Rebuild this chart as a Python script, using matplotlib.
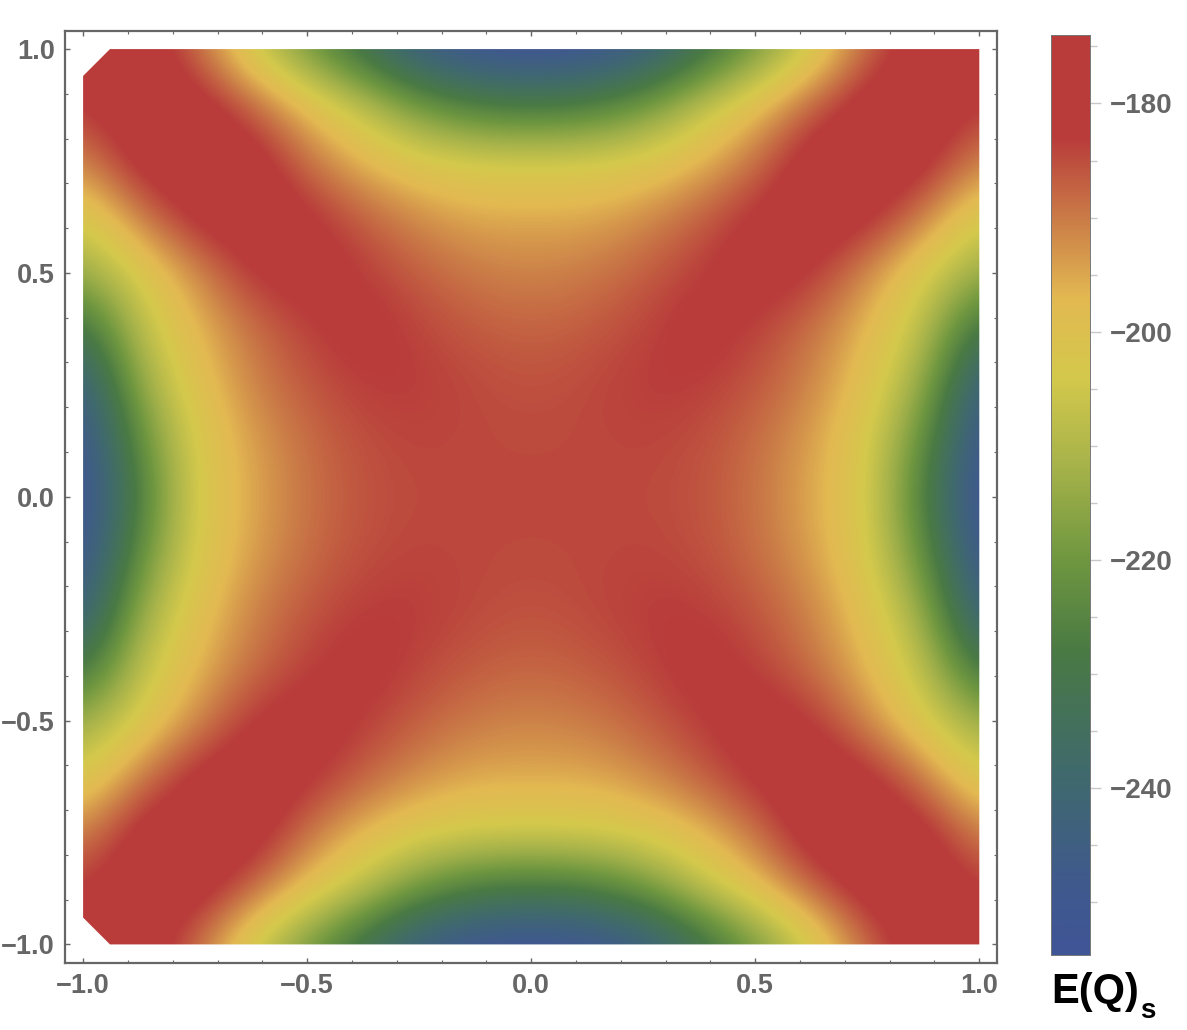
import numpy as np
import matplotlib
matplotlib.use("Agg")
import matplotlib.pyplot as plt
from matplotlib.colors import LinearSegmentedColormap
from matplotlib.patches import Polygon
from matplotlib.ticker import MultipleLocator, FixedLocator

plt.rcParams['font.family'] = ['Liberation Sans', 'DejaVu Sans']

# Energy: one quadrant, x = -1..0 (columns), y = 1..0 (rows), step 0.125
quadrant = [
    [-178, -178, -188, -205, -220, -234, -247, -252, -253],
    [-183, -178, -178, -187, -198, -208, -220, -227, -229],
    [-191, -179, -178, -178, -189, -197, -202, -204, -204],
    [-204, -190, -180, -178, -181, -187, -192, -195, -195],
    [-214, -203, -192, -182, -180, -183, -187, -190, -191],
    [-232, -208, -197, -189, -183.5, -181, -184, -186.5, -187.5],
    [-246, -214, -200, -191, -186, -183, -183, -184.5, -185.5],
    [-251, -222, -203, -194, -188.5, -185, -184, -184.5, -184.5],
    [-253, -227, -203, -195, -189, -185.5, -184.5, -184.5, -184.5],
]
grid_step = 0.125
vmin, vmax = -254.6, -174.0

cmap_values = [-254.6, -248, -238, -228, -220, -212, -204, -197, -190.5, -183, -174]
cmap_colors = ['#3f5597', '#3f5a8c', '#406b6a', '#4a7a44', '#6f9740', '#a5b24a',
               '#d4c94c', '#e3b952', '#cc8048', '#b93c3b', '#b93c3b']
outline_x = [-1, -0.94, 1, 1, -0.94, -1]
outline_y = [0.94, 1, 1, -1, -1, -0.94]

major_ticks = [-1.0, -0.5, 0.0, 0.5, 1.0]
cbar_major = [-240, -220, -200, -180]
cbar_minor = [-250, -245, -235, -230, -225, -215, -210, -205, -195, -190, -185, -175]

q = np.array(quadrant, dtype=float)
top = np.hstack([q, q[:, -2::-1]])
Z = np.vstack([top, top[-2::-1]])

W, H = 1187, 1030
fig = plt.figure(figsize=(W / 100, H / 100), dpi=100, facecolor='white')
def box(x0, y0, x1, y1):
    return [x0 / W, 1 - y1 / H, (x1 - x0) / W, (y1 - y0) / H]

GRAY = '#666666'
ax = fig.add_axes(box(64.5, 30.5, 997, 963))
cmap = LinearSegmentedColormap.from_list(
    'eq', [((v - vmin) / (vmax - vmin), c) for v, c in zip(cmap_values, cmap_colors)], N=512)
h = grid_step / 2
im = ax.imshow(Z, extent=[-1 - h, 1 + h, -1 - h, 1 + h], origin='upper', cmap=cmap,
               vmin=vmin, vmax=vmax, interpolation='bicubic', interpolation_stage='data',
               aspect='auto')
patch = Polygon(np.column_stack([outline_x, outline_y]), closed=True,
                transform=ax.transData, fc='none', ec='none')
ax.add_patch(patch)
im.set_clip_path(patch)
ax.set_xlim(-1.0415, 1.0395)
ax.set_ylim(-1.0415, 1.0415)
ax.xaxis.set_major_locator(FixedLocator(major_ticks))
ax.yaxis.set_major_locator(FixedLocator(major_ticks))
ax.xaxis.set_minor_locator(MultipleLocator(0.1))
ax.yaxis.set_minor_locator(MultipleLocator(0.1))
for s in ax.spines.values():
    s.set_color(GRAY)
    s.set_linewidth(1.6)
ax.tick_params(which='major', direction='in', length=3.5, width=1.0, color=GRAY, top=True, right=True)
ax.tick_params(which='minor', direction='in', length=2, width=0.8, color=GRAY, top=True, right=True)
ax.tick_params(axis='both', which='major', labelsize=19.5, labelcolor=GRAY, pad=7)
fmt = lambda v: f"{v:.1f}".replace('-', '\u2212')
ax.set_xticks(major_ticks, [fmt(t) for t in major_ticks], fontweight='bold')
ax.set_yticks(major_ticks, [fmt(t) for t in major_ticks], fontweight='bold')

cax = fig.add_axes(box(1051, 35, 1090, 955))
gradient = np.linspace(vmax, vmin, 512).reshape(-1, 1)
cax.imshow(gradient, extent=[0, 1, vmin, vmax], aspect='auto', cmap=cmap, vmin=vmin, vmax=vmax)
cax.set_xticks([])
cax.yaxis.tick_right()
cax.set_yticks(cbar_major, [f"\u2212{abs(t)}" for t in cbar_major], fontweight='bold')
cax.set_yticks(cbar_minor, minor=True)
cax.tick_params(which='major', direction='out', length=8, width=1.0, color='#c8c8c8',
                labelsize=20, labelcolor=GRAY, pad=6)
cax.tick_params(which='minor', direction='out', length=5, width=1.0, color='#c8c8c8')
for s in cax.spines.values():
    s.set_color('#777777')
    s.set_linewidth(0.7)

fig.text(1051 / W, 1 - 1003 / H, 'E(Q)', fontsize=30, fontweight='bold', color='black', va='baseline', ha='left')
fig.text(1140 / W, 1 - 1018 / H, 's', fontsize=20, fontweight='bold', color='black', va='baseline', ha='left')

fig.savefig('out.png', dpi=100, facecolor='white')
